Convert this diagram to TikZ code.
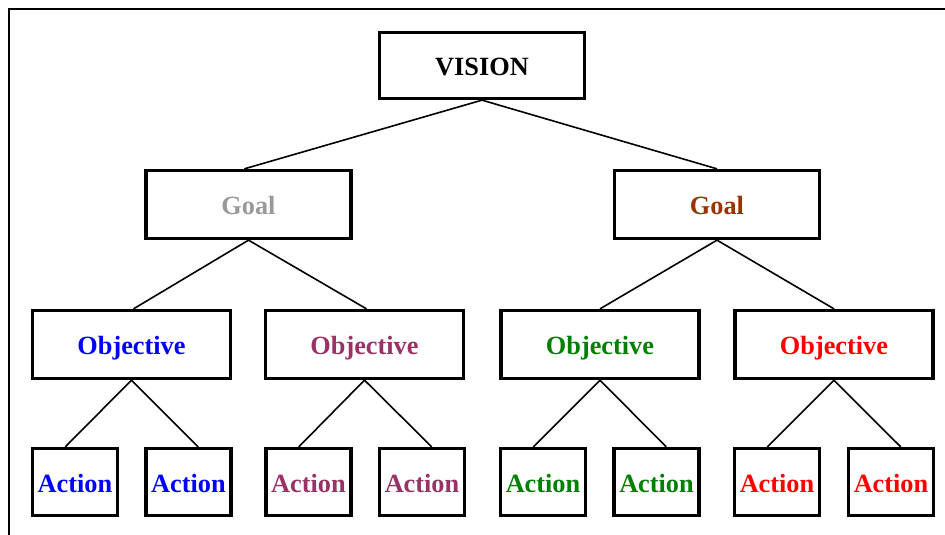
\documentclass[tikz,border=0pt]{standalone}
\usepackage{fontspec}
\setmainfont{Liberation Serif}
\usetikzlibrary{calc}
\definecolor{cgray}{HTML}{999999}
\definecolor{cbrown}{HTML}{993300}
\definecolor{cblue}{HTML}{0000FF}
\definecolor{cpurple}{HTML}{993366}
\definecolor{cgreen}{HTML}{008000}
\definecolor{cred}{HTML}{FF0000}
\tikzset{
  box/.style={draw=black, line width=3.3pt, rectangle, inner sep=0pt,
    font=\fontsize{26.3}{30}\selectfont\bfseries, text height=20pt, text depth=0pt},
  bigbox/.style={box, minimum width=205pt, minimum height=66pt},
  goalbox/.style={box, minimum width=205pt, minimum height=68pt},
  objbox/.style={box, minimum width=198pt, minimum height=68pt},
  actbox/.style={box, minimum width=85pt, minimum height=67pt},
  link/.style={draw=black, line width=1.6pt},
  frame/.style={draw=black, line width=2.5pt}
}
\begin{document}
\begin{tikzpicture}[x=1pt, y=-1pt]
\useasboundingbox (0,0) rectangle (945,535);
\draw[frame] (9,535) -- (9,9) -- (945,9);
\node[bigbox] (v) at (482,65.5) {VISION};
\node[goalbox, text=cgray] (g1) at (248.5,204.5) {Goal};
\node[goalbox, text=cbrown] (g2) at (717,204.5) {Goal};
\node[objbox, text=cblue] (o1) at (131.5,344.5) {Objective};
\node[objbox, text=cpurple] (o2) at (364.5,344.5) {Objective};
\node[objbox, text=cgreen] (o3) at (600,344.5) {Objective};
\node[objbox, text=cred] (o4) at (834,344.5) {Objective};
\node[actbox, text=cblue] (a1) at (75,482) {Action};
\node[actbox, text=cblue] (a2) at (188.5,482) {Action};
\node[actbox, text=cpurple] (a3) at (308.5,482) {Action};
\node[actbox, text=cpurple] (a4) at (422,482) {Action};
\node[actbox, text=cgreen] (a5) at (543,482) {Action};
\node[actbox, text=cgreen] (a6) at (656.5,482) {Action};
\node[actbox, text=cred] (a7) at (777,482) {Action};
\node[actbox, text=cred] (a8) at (891,482) {Action};
\draw[link] (v.south) -- ($(g1.north west)!0.48!(g1.north east)$);
\draw[link] (v.south) -- (g2.north);
\draw[link] (g1.south) -- ($(o1.north west)!0.51!(o1.north east)$);
\draw[link] (g1.south) -- ($(o2.north west)!0.51!(o2.north east)$);
\draw[link] (g2.south) -- (o3.north);
\draw[link] (g2.south) -- (o4.north);
\foreach \p/\l/\r in {o1/a1/a2, o2/a3/a4, o3/a5/a6, o4/a7/a8}{
  \draw[link] (\p.south) -- ($(\l.north west)!0.39!(\l.north east)$);
  \draw[link] (\p.south) -- ($(\r.north west)!0.61!(\r.north east)$);
}
\end{tikzpicture}
\end{document}
